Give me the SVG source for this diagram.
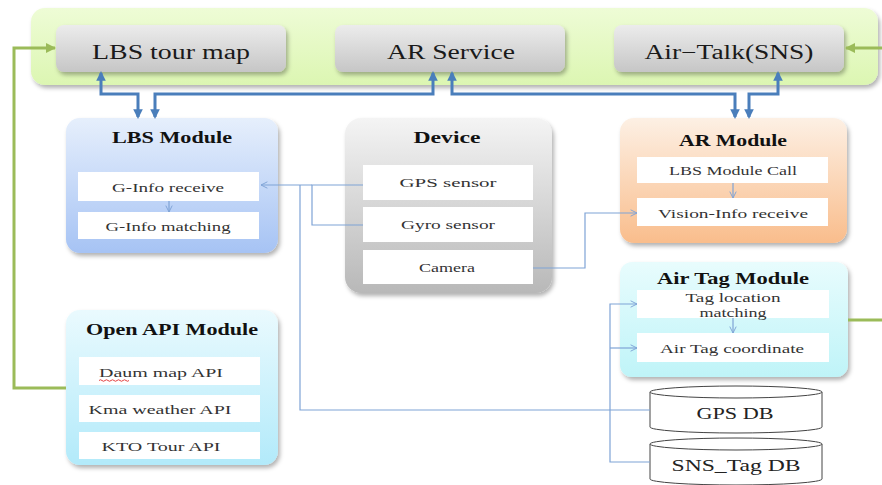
<svg xmlns="http://www.w3.org/2000/svg" width="882" height="485" viewBox="0 0 882 485">
<style>
.btn{font-family:"Liberation Serif","DejaVu Serif",serif;font-size:20px;fill:#1a1a1a;text-anchor:middle}
.ttl{font-family:"Liberation Serif","DejaVu Serif",serif;font-size:17px;font-weight:bold;fill:#111;text-anchor:middle}
.in{font-family:"Liberation Serif","DejaVu Serif",serif;font-size:13px;fill:#333;text-anchor:middle}
.db{font-family:"Liberation Serif","DejaVu Serif",serif;font-size:16px;fill:#222;text-anchor:middle}
.box{fill:#fff}
.thick{fill:none;stroke:#4a7ebb;stroke-width:3;marker-end:url(#bh);marker-start:url(#bh)}
.thin{fill:none;stroke:#7fa3d6;stroke-width:1.2}
.green{fill:none;stroke:#9bbb59;stroke-width:3}
.cyl{fill:#fff;stroke:#444;stroke-width:1}
</style>
<defs>
<filter id="sh" x="-10%" y="-10%" width="125%" height="130%"><feDropShadow dx="2" dy="3" stdDeviation="2" flood-color="#000" flood-opacity="0.3"/></filter>
<linearGradient id="gTop" x1="0" y1="0" x2="0" y2="1"><stop offset="0" stop-color="#eefcd6"/><stop offset="1" stop-color="#dcf6b2"/></linearGradient>
<linearGradient id="gBtn" x1="0" y1="0" x2="0" y2="1"><stop offset="0" stop-color="#ececec"/><stop offset="1" stop-color="#c6c6c6"/></linearGradient>
<linearGradient id="gLbs" x1="0" y1="0" x2="0" y2="1"><stop offset="0" stop-color="#e6effc"/><stop offset="1" stop-color="#a6c3f4"/></linearGradient>
<linearGradient id="gDev" x1="0" y1="0" x2="0" y2="1"><stop offset="0" stop-color="#f4f4f4"/><stop offset="1" stop-color="#b8b8b8"/></linearGradient>
<linearGradient id="gAr" x1="0" y1="0" x2="0" y2="1"><stop offset="0" stop-color="#fdf0e4"/><stop offset="1" stop-color="#f9bd8c"/></linearGradient>
<linearGradient id="gTag" x1="0" y1="0" x2="0" y2="1"><stop offset="0" stop-color="#e8fcfd"/><stop offset="1" stop-color="#bff4f8"/></linearGradient>
<linearGradient id="gApi" x1="0" y1="0" x2="0" y2="1"><stop offset="0" stop-color="#eafafe"/><stop offset="1" stop-color="#b2eafa"/></linearGradient>
<marker id="bh" viewBox="0 0 10 10" refX="8" refY="5" markerWidth="3.2" markerHeight="3.2" orient="auto-start-reverse" markerUnits="strokeWidth"><path d="M0,0 L10,5 L0,10 z" fill="#4a7ebb"/></marker>
<marker id="gh" viewBox="0 0 10 10" refX="9" refY="5" markerWidth="3.4" markerHeight="3.4" orient="auto" markerUnits="strokeWidth"><path d="M0,0 L10,5 L0,10 z" fill="#9bbb59"/></marker>
<marker id="oh" viewBox="0 0 10 10" refX="9" refY="5" markerWidth="8" markerHeight="8" orient="auto" markerUnits="userSpaceOnUse"><path d="M1,1 L9,5 L1,9" fill="none" stroke="#7fa3d6" stroke-width="1.2"/></marker>
</defs>

<g id="top-bar">
<rect x="31" y="8" width="847" height="77" rx="14" fill="url(#gTop)" filter="url(#sh)"/>
</g>
<g id="lbs-tour-map">
<rect x="56" y="25" width="230" height="47" rx="8" fill="url(#gBtn)" filter="url(#sh)"/>
<text class="btn" x="171" y="59" textLength="158" lengthAdjust="spacingAndGlyphs">LBS tour map</text>
</g>
<g id="ar-service">
<rect x="335" y="25" width="230" height="47" rx="8" fill="url(#gBtn)" filter="url(#sh)"/>
<text class="btn" x="451" y="59" textLength="128" lengthAdjust="spacingAndGlyphs">AR Service</text>
</g>
<g id="air-talk">
<rect x="614" y="25" width="230" height="47" rx="8" fill="url(#gBtn)" filter="url(#sh)"/>
<text class="btn" x="729" y="59" textLength="169" lengthAdjust="spacingAndGlyphs">Air−Talk(SNS)</text>
</g>

<g id="lbs-module">
<rect x="66" y="118" width="212" height="135" rx="14" fill="url(#gLbs)" filter="url(#sh)"/>
<text class="ttl" x="172" y="143" textLength="120" lengthAdjust="spacingAndGlyphs">LBS Module</text>
<rect class="box" x="78" y="172" width="181" height="29"/>
<text class="in" x="168" y="192" textLength="112" lengthAdjust="spacingAndGlyphs">G-Info receive</text>
<rect class="box" x="78" y="212" width="181" height="27"/>
<text class="in" x="168" y="231" textLength="125" lengthAdjust="spacingAndGlyphs">G-Info matching</text>
</g>

<g id="device">
<rect x="345" y="118" width="207" height="175" rx="16" fill="url(#gDev)" filter="url(#sh)"/>
<text class="ttl" x="447" y="143" textLength="67" lengthAdjust="spacingAndGlyphs">Device</text>
<rect class="box" x="363" y="165" width="170" height="35"/>
<text class="in" x="448" y="187" textLength="97" lengthAdjust="spacingAndGlyphs">GPS  sensor</text>
<rect class="box" x="363" y="207" width="170" height="35"/>
<text class="in" x="448" y="229" textLength="94" lengthAdjust="spacingAndGlyphs">Gyro sensor</text>
<rect class="box" x="363" y="250" width="170" height="34"/>
<text class="in" x="447" y="272" textLength="56" lengthAdjust="spacingAndGlyphs">Camera</text>
</g>

<g id="ar-module">
<rect x="620" y="118" width="227" height="125" rx="14" fill="url(#gAr)" filter="url(#sh)"/>
<text class="ttl" x="733" y="146" textLength="108" lengthAdjust="spacingAndGlyphs">AR Module</text>
<rect class="box" x="637" y="157" width="191" height="26"/>
<text class="in" x="733" y="175" textLength="128" lengthAdjust="spacingAndGlyphs">LBS Module Call</text>
<rect class="box" x="637" y="198" width="191" height="28"/>
<text class="in" x="733" y="218" textLength="150" lengthAdjust="spacingAndGlyphs">Vision-Info receive</text>
</g>

<g id="air-tag-module">
<rect x="620" y="262" width="228" height="115" rx="12" fill="url(#gTag)" filter="url(#sh)"/>
<text class="ttl" x="733" y="284" textLength="152" lengthAdjust="spacingAndGlyphs">Air Tag Module</text>
<rect class="box" x="637" y="290" width="192" height="28"/>
<text class="in" x="733" y="302" textLength="95" lengthAdjust="spacingAndGlyphs">Tag location</text>
<text class="in" x="733" y="317" textLength="67" lengthAdjust="spacingAndGlyphs">matching</text>
<rect class="box" x="637" y="333" width="192" height="29"/>
<text class="in" x="732" y="353" textLength="144" lengthAdjust="spacingAndGlyphs">Air Tag coordinate</text>
</g>

<g id="open-api-module">
<rect x="66" y="310" width="212" height="155" rx="14" fill="url(#gApi)" filter="url(#sh)"/>
<text class="ttl" x="172" y="335" textLength="172" lengthAdjust="spacingAndGlyphs">Open API Module</text>
<rect class="box" x="79" y="357" width="181" height="28"/>
<text class="in" x="161" y="377" textLength="124" lengthAdjust="spacingAndGlyphs">Daum map API</text>
<path d="M99,380.5 q1.5,-1.5 3,0 t3,0 t3,0 t3,0 t3,0 t3,0 t3,0 t3,0 t3,0 t3,0" fill="none" stroke="#e03030" stroke-width="0.9"/>
<rect class="box" x="79" y="395" width="181" height="27"/>
<text class="in" x="160" y="414" textLength="143" lengthAdjust="spacingAndGlyphs">Kma weather API</text>
<rect class="box" x="79" y="432" width="181" height="27"/>
<text class="in" x="161" y="451" textLength="119" lengthAdjust="spacingAndGlyphs">KTO Tour API</text>
</g>

<g id="gps-db">
<path class="cyl" d="M650,392 L650,427 A86,6 0 0 0 822,427 L822,392"/>
<ellipse class="cyl" cx="736" cy="392" rx="86" ry="6"/>
<text class="db" x="735" y="419" textLength="77" lengthAdjust="spacingAndGlyphs">GPS DB</text>
</g>
<g id="sns-tag-db">
<path class="cyl" d="M650,444 L650,479 A86,6 0 0 0 822,479 L822,444"/>
<ellipse class="cyl" cx="736" cy="444" rx="86" ry="6"/>
<text class="db" x="736" y="471" textLength="129" lengthAdjust="spacingAndGlyphs">SNS_Tag DB</text>
</g>

<g id="connectors">
<path class="thick" d="M101,73 L101,94 L138,94 L138,117"/>
<path class="thick" d="M433,73 L433,94 L155,94 L155,117"/>
<path class="thick" d="M452,73 L452,94 L735,94 L735,117"/>
<path class="thick" d="M778,73 L778,94 L749,94 L749,117"/>
<path class="green" d="M66,388 L14,388 L14,48 L55,48" marker-end="url(#gh)"/>
<path class="green" d="M882,48 L846,48" marker-end="url(#gh)"/>
<path class="green" d="M848,320 L882,320"/>
<path class="thin" d="M363,185 L312,185 L312,225 L363,225"/>
<path class="thin" d="M312,185 L261,185" marker-end="url(#oh)"/>
<path class="thin" d="M300,185 L300,410 L650,410"/>
<path class="thin" d="M533,268 L585,268 L585,213 L637,213" marker-end="url(#oh)"/>
<path class="thin" d="M650,462 L610,462 L610,304 L637,304" marker-end="url(#oh)"/>
<path class="thin" d="M610,348 L637,348" marker-end="url(#oh)"/>
<path class="thin" d="M169,201 L169,212" marker-end="url(#oh)"/>
<path class="thin" d="M733,183 L733,198" marker-end="url(#oh)"/>
<path class="thin" d="M733,318 L733,333" marker-end="url(#oh)"/>
</g>
</svg>
